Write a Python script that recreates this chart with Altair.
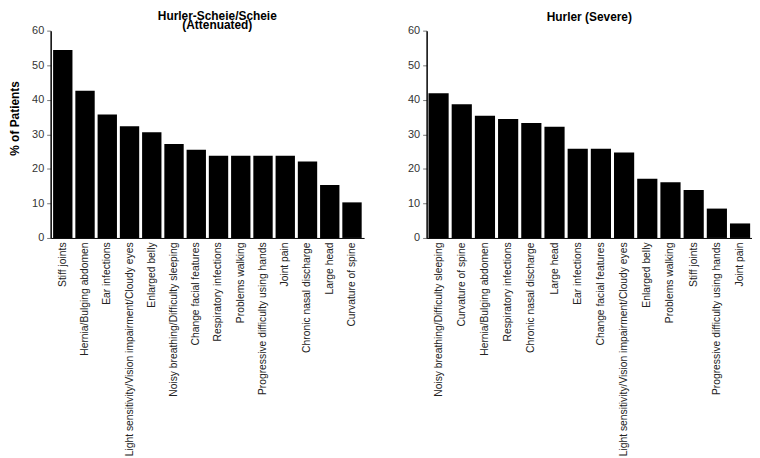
import altair as alt
import pandas as pd

att_symptoms = [
    "Stiff joints", "Hernia/Bulging abdomen", "Ear infections",
    "Light sensitivity/Vision impairment/Cloudy eyes", "Enlarged belly",
    "Noisy breathing/Difficulty sleeping", "Change facial features",
    "Respiratory infections", "Problems walking",
    "Progressive difficulty using hands", "Joint pain",
    "Chronic nasal discharge", "Large head", "Curvature of spine",
]
att_values = [54.4, 42.6, 35.7, 32.3, 30.6, 27.2, 25.5, 23.8, 23.8, 23.8, 23.8, 22.1, 15.3, 10.3]

sev_symptoms = [
    "Noisy breathing/Difficulty sleeping", "Curvature of spine",
    "Hernia/Bulging abdomen", "Respiratory infections",
    "Chronic nasal discharge", "Large head", "Ear infections",
    "Change facial features",
    "Light sensitivity/Vision impairment/Cloudy eyes", "Enlarged belly",
    "Problems walking", "Stiff joints",
    "Progressive difficulty using hands", "Joint pain",
]
sev_values = [41.9, 38.7, 35.4, 34.4, 33.3, 32.2, 25.8, 25.8, 24.7, 17.1, 16.1, 13.9, 8.5, 4.2]

y_ticks = [0, 10, 20, 30, 40, 50, 60]


def panel(cats, vals, title, width, title_offset, title_dx, ytitle, pad_outer):
    df = pd.DataFrame({"symptom": cats, "pct": vals})
    yaxis_kw = dict(
        values=y_ticks, grid=False, tickSize=4, tickColor="#777", tickWidth=1,
        labelPadding=3, labelFontSize=11, labelColor="#333",
        domainColor="black", domainWidth=1.5,
    )
    if ytitle:
        yaxis_kw.update(titleFontSize=12, titleFontWeight="bold", titleColor="black",
                        titlePadding=10, titleY=88)
    return (
        alt.Chart(df)
        .mark_bar(color="black")
        .encode(
            x=alt.X(
                "symptom:N", sort=cats, title=None,
                scale=alt.Scale(paddingInner=0.13, paddingOuter=pad_outer),
                axis=alt.Axis(labelAngle=-90, labelFontSize=10.4, ticks=False,
                              labelPadding=4, domainColor="black", domainWidth=1,
                              labelColor="#222", labelLimit=400),
            ),
            y=alt.Y(
                "pct:Q", scale=alt.Scale(domain=[0, 60]),
                title=ytitle if ytitle else None,
                axis=alt.Axis(**yaxis_kw),
            ),
        )
        .properties(
            width=width, height=209,
            title=alt.TitleParams(title, fontSize=12, fontWeight="bold", lineHeight=9,
                                  offset=title_offset, dx=title_dx, color="black"),
        )
    )


left = panel(att_symptoms, att_values, ["Hurler-Scheie/Scheie", "(Attenuated)"],
             316, -7, 10, "% of Patients", 0.11)
right = panel(sev_symptoms, sev_values, "Hurler (Severe)", 328, 1, 0, None, 0.08)

chart = (
    alt.hconcat(left, right, spacing=63, bounds="flush")
    .properties(padding={"left": 0, "top": 0, "right": 0, "bottom": 0})
    .configure(font="Liberation Sans")
    .configure_view(stroke=None)
)

chart.save("out.html", embed_options={"renderer": "svg", "actions": False})
